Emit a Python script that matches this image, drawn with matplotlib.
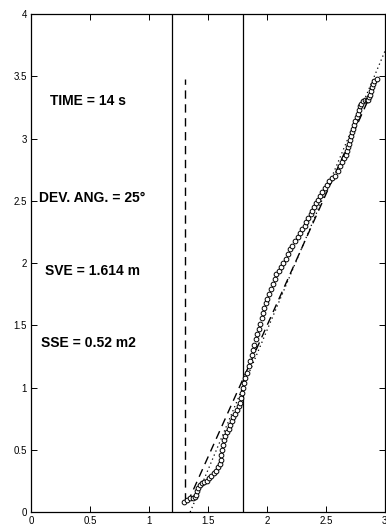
import matplotlib
matplotlib.use('Agg')
import matplotlib.pyplot as plt

# trajectory points (x, y)
traj_x = [1.30, 1.32, 1.35, 1.37, 1.39, 1.40, 1.41, 1.42, 1.43, 1.45,
          1.47, 1.49, 1.51, 1.53, 1.55, 1.57, 1.585, 1.60, 1.61, 1.615,
          1.62, 1.625, 1.635, 1.645, 1.66, 1.675, 1.69, 1.705, 1.715, 1.73,
          1.745, 1.76, 1.77, 1.78, 1.79, 1.80, 1.805, 1.815, 1.83, 1.845,
          1.855, 1.87, 1.885, 1.895, 1.905, 1.915, 1.93, 1.94, 1.955, 1.965,
          1.975, 1.99, 2.005, 2.02, 2.035, 2.05, 2.065, 2.08, 2.10, 2.12,
          2.14, 2.16, 2.18, 2.195, 2.21, 2.235, 2.26, 2.28, 2.30, 2.32,
          2.335, 2.35, 2.37, 2.385, 2.40, 2.42, 2.435, 2.45, 2.47, 2.49,
          2.51, 2.53, 2.555, 2.58, 2.60, 2.62, 2.64, 2.655, 2.67, 2.68,
          2.69, 2.70, 2.705, 2.715, 2.725, 2.73, 2.74, 2.75, 2.76, 2.77,
          2.78, 2.79, 2.80, 2.815, 2.83, 2.845, 2.86, 2.865, 2.87, 2.88,
          2.89, 2.90, 2.91, 2.93]
traj_y = [0.08, 0.10, 0.11, 0.11, 0.12, 0.14, 0.17, 0.19, 0.22, 0.23,
          0.24, 0.25, 0.27, 0.29, 0.31, 0.33, 0.36, 0.39, 0.42, 0.46,
          0.50, 0.54, 0.58, 0.61, 0.64, 0.67, 0.70, 0.73, 0.76, 0.79,
          0.82, 0.85, 0.88, 0.92, 0.96, 1.00, 1.04, 1.08, 1.12, 1.17,
          1.21, 1.26, 1.30, 1.34, 1.39, 1.43, 1.47, 1.51, 1.56, 1.60,
          1.64, 1.68, 1.71, 1.75, 1.79, 1.83, 1.87, 1.91, 1.94, 1.97,
          2.00, 2.03, 2.07, 2.11, 2.14, 2.18, 2.21, 2.24, 2.27, 2.30,
          2.33, 2.36, 2.39, 2.42, 2.45, 2.48, 2.51, 2.54, 2.57, 2.60,
          2.63, 2.66, 2.68, 2.70, 2.74, 2.78, 2.81, 2.84, 2.87, 2.90,
          2.93, 2.96, 2.99, 3.02, 3.05, 3.08, 3.11, 3.14, 3.17, 3.20,
          3.23, 3.26, 3.28, 3.30, 3.31, 3.31, 3.31, 3.33, 3.35, 3.38,
          3.41, 3.44, 3.46, 3.48]

# reference lines
vert_x = [1.2, 1.8]
start_line_x = [1.31, 1.31]
start_line_y = [0.09, 3.48]
dash_x = [1.33, 2.93]
dash_y = [0.08, 3.46]
dot_x = [1.35, 3.0]
dot_y = [0.0, 3.70]

labels = ['TIME = 14 s', 'DEV. ANG. = 25\u00b0', 'SVE = 1.614 m', 'SSE = 0.52 m2']
label_x = [0.48, 0.52, 0.52, 0.49]
label_y = [3.3, 2.52, 1.94, 1.36]

plt.rcParams['font.family'] = ['Liberation Sans', 'DejaVu Sans']

fig = plt.figure(figsize=(3.86, 5.29), dpi=100)
ax = fig.add_axes([0.080, 0.032, 0.917, 0.9415])

for vx in vert_x:
    ax.axvline(vx, color='black', lw=0.9)

ax.plot(start_line_x, start_line_y, color='black', lw=1.0, dashes=(6, 4))
ax.plot(dash_x, dash_y, color='black', lw=1.0, dashes=(6, 4))
ax.plot(dot_x, dot_y, color='black', lw=0.9, dashes=(1, 2.5))
ax.plot(traj_x, traj_y, linestyle='none', marker='o', markersize=3.4,
        markerfacecolor='white', markeredgecolor='black', markeredgewidth=0.7)

for t, x, y in zip(labels, label_x, label_y):
    ax.text(x, y, t, ha='center', va='center', fontsize=10, fontweight='bold')

ax.set_xlim(0, 3)
ax.set_ylim(0, 4)
ax.set_xticks([0, 0.5, 1, 1.5, 2, 2.5, 3])
ax.set_xticklabels(['0', '0.5', '1', '1.5', '2', '2.5', '3'])
ax.set_yticks([0, 0.5, 1, 1.5, 2, 2.5, 3, 3.5, 4])
ax.set_yticklabels(['0', '0.5', '1', '1.5', '2', '2.5', '3', '3.5', '4'])
ax.tick_params(direction='in', top=True, right=True, labelsize=7, length=4, width=0.7, pad=3)
for s in ax.spines.values():
    s.set_linewidth(0.9)

fig.savefig('out.png', dpi=100)
